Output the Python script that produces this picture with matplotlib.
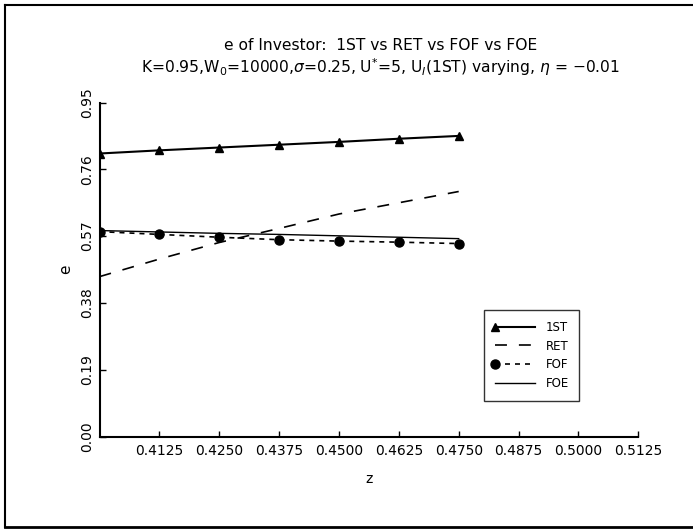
import matplotlib
matplotlib.use("Agg")
import matplotlib.pyplot as plt
from matplotlib.lines import Line2D
from matplotlib.legend_handler import HandlerLine2D

# ---- data ----
z = [0.4000, 0.4125, 0.4250, 0.4375, 0.4500, 0.4625, 0.4750]
e_1st = [0.805, 0.814, 0.822, 0.830, 0.838, 0.847, 0.855]
e_ret = [0.455, 0.505, 0.552, 0.592, 0.633, 0.665, 0.697]
e_fof = [0.583, 0.575, 0.567, 0.560, 0.556, 0.553, 0.549]
e_foe = [0.586, 0.582, 0.578, 0.575, 0.571, 0.567, 0.563]
series_labels = ["1ST", "RET", "FOF", "FOE"]
x_ticks = [0.4125, 0.4250, 0.4375, 0.4500, 0.4625, 0.4750, 0.4875, 0.5000, 0.5125]
y_ticks = [0.00, 0.19, 0.38, 0.57, 0.76, 0.95]
title1 = "e of Investor:  1ST vs RET vs FOF vs FOE"
title2 = r"K=0.95,W$_0$=10000,$\sigma$=0.25, U$^{*}$=5, U$_I$(1ST) varying, $\eta$ = $-$0.01"

plt.rcParams['font.family'] = ['DejaVu Sans']
plt.rcParams['mathtext.fontset'] = 'dejavusans'
plt.rcParams['lines.scale_dashes'] = False

W, H = 693, 529
fig = plt.figure(figsize=(W / 100, H / 100), dpi=100)
ax = fig.add_axes([99.5 / W, (H - 436.7) / H, 538.8 / W, 334.2 / H])

ax.plot(z, e_1st, color='black', lw=1.5, marker='^', ms=6, label=series_labels[0])
ax.plot(z, e_ret, color='black', lw=1.2, dashes=(8.6, 8.6), label=series_labels[1])
ax.plot(z, e_fof, color='black', lw=1.2, dashes=(3.6, 3.6), marker='o', ms=6.5, label=series_labels[2])
ax.plot(z, e_foe, color='black', lw=1.0, label=series_labels[3])

ax.set_xlim(0.4, 0.5125)
ax.set_ylim(0.0, 0.95)
ax.set_xticks(x_ticks)
ax.set_xticklabels([f"{v:.4f}" for v in x_ticks])
ax.set_yticks(y_ticks)
ax.set_yticklabels([f"{v:.2f}" for v in y_ticks], rotation=90, va='center')
ax.tick_params(direction='in', length=4, width=1, labelsize=10, pad=5)
ax.tick_params(axis='y', pad=4)
for s in ['top', 'right']:
    ax.spines[s].set_visible(False)
for s in ['left', 'bottom']:
    ax.spines[s].set_linewidth(1.5)

ax.set_xlabel("z", fontsize=10, labelpad=10)
ax.set_ylabel("e", fontsize=11, labelpad=5)

fig.text(381 / W, 1 - 46 / H, title1, ha='center', va='center', fontsize=11.2)
fig.text(381 / W, 1 - 67 / H, title2, ha='center', va='center', fontsize=11.2)


class LeftMarkerHandler(HandlerLine2D):
    def create_artists(self, legend, orig_handle, xdescent, ydescent, width,
                       height, fontsize, trans):
        arts = super().create_artists(legend, orig_handle, xdescent, ydescent,
                                      width, height, fontsize, trans)
        for a in arts:
            if a.get_marker() not in (None, 'None', ''):
                if a.get_linestyle() in ('None', '', ' '):
                    a.set_xdata([-xdescent + 2])
                else:
                    a.set_markevery([0])
        return arts


leg = ax.legend(loc='upper left', bbox_to_anchor=(0.7136, 0.379), borderaxespad=0,
                fontsize=8.5, frameon=True, fancybox=False, handlelength=3.4,
                handletextpad=0.9, labelspacing=0.5, borderpad=0.9,
                handler_map={Line2D: LeftMarkerHandler()})
leg.get_frame().set_edgecolor('black')
leg.get_frame().set_linewidth(1.0)

# outer frame (top, left, bottom)
fig.add_artist(Line2D([5 / W, 1.0], [1 - 5 / H, 1 - 5 / H], transform=fig.transFigure, color='black', lw=1.5))
fig.add_artist(Line2D([5 / W, 5 / W], [1 - 5 / H, 1 - 527 / H], transform=fig.transFigure, color='black', lw=1.5))
fig.add_artist(Line2D([5 / W, 1.0], [1 - 527 / H, 1 - 527 / H], transform=fig.transFigure, color='black', lw=2))

fig.savefig("out.png", dpi=100)
